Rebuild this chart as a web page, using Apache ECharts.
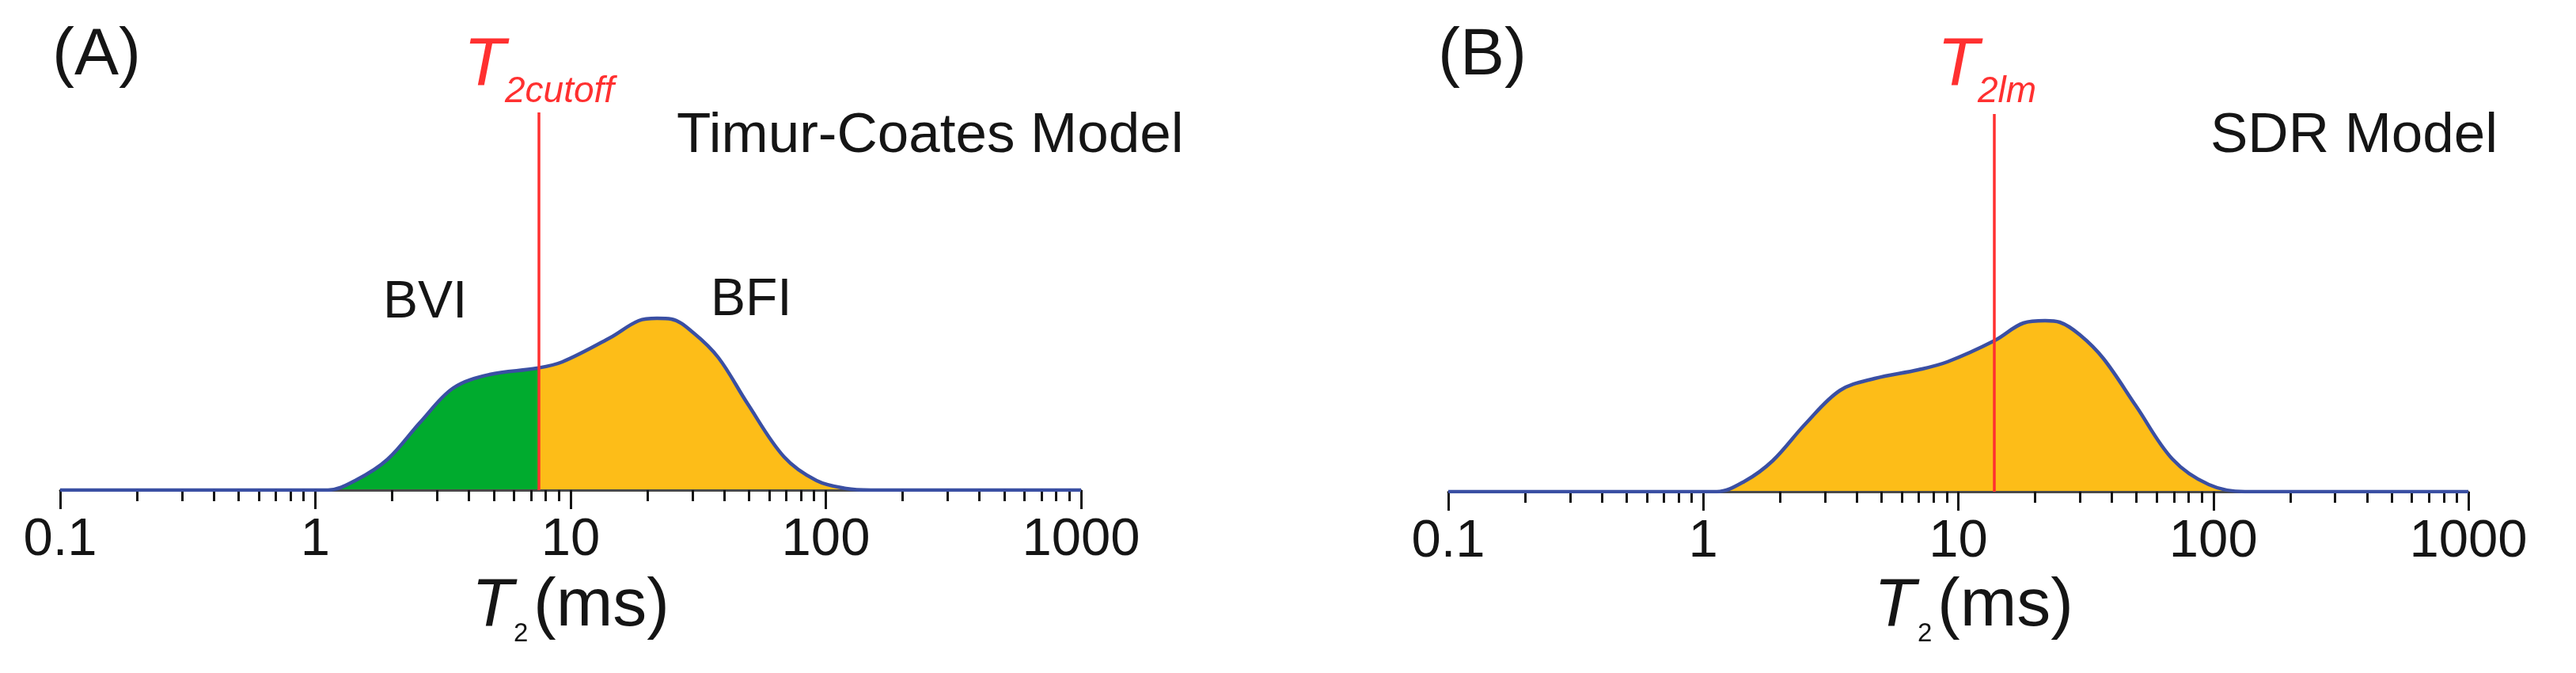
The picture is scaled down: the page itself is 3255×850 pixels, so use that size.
<!DOCTYPE html>
<html>
<head>
<meta charset="utf-8">
<title>T2 distribution - Timur-Coates and SDR models</title>
<script src="https://cdn.jsdelivr.net/npm/echarts@6/dist/echarts.min.js"></script>
<style>
  html, body { margin: 0; padding: 0; background: #fff; }
  #chart { width: 3255px; height: 850px; }
</style>
</head>
<body>
<div id="chart"></div>
<script>
// T2 relaxation time (ms) and amplitude (a.u.)
var t2A = [0.1, 0.8, 1.12, 1.45, 1.92, 2.58, 3.47, 4.82, 7.38, 9.29, 14.2, 18.5, 21.8, 24.8, 30.2, 38, 49.4, 68.6, 92, 120, 150, 200, 1000];
var ampA = [0, 0, 0, 0.13, 0.39, 0.86, 1.29, 1.46, 1.54, 1.62, 1.92, 2.14, 2.17, 2.16, 1.99, 1.67, 1.09, 0.42, 0.12, 0.02, 0, 0, 0];

var t2B = [0.1, 0.8, 1.13, 1.45, 1.87, 2.52, 3.44, 4.7, 6.97, 9.06, 13.9, 18, 21.9, 25, 30, 37.1, 49.8, 69.2, 96, 133, 200, 1000];
var ampB = [0, 0, 0, 0.13, 0.39, 0.86, 1.28, 1.43, 1.54, 1.64, 1.91, 2.13, 2.16, 2.14, 1.98, 1.68, 1.08, 0.41, 0.09, 0, 0, 0];

var t2Cutoff = 7.5;   // panel A red line
var t2Lm = 13.8;      // panel B red line

var tickValues = [0.1, 1, 10, 100, 1000];
var tickLabels = ["0.1", "1", "10", "100", "1000"];
var minorTicks = [0.2, 0.3, 0.4, 0.5, 0.6, 0.7, 0.8, 0.9, 2, 3, 4, 5, 6, 7, 8, 9,
  20, 30, 40, 50, 60, 70, 80, 90, 200, 300, 400, 500, 600, 700, 800, 900];

var xMin = 0.1, xMax = 1000, yMax = 4.77;

var FONT = '"Liberation Sans", Arial, sans-serif';
var BLUE = "#3a4fa3";
var GREEN = "#00ab2e";
var ORANGE = "#fdbd18";
var RED = "#ff3030";
var INK = "#151515";

function pairs(xs, ys) {
  return xs.map(function(x, i) { return [x, ys[i]]; });
}

function labelFor(v) {
  var i = tickValues.findIndex(function(t) {
    return Math.abs(Math.log10(t) - Math.log10(v)) < 1e-6;
  });
  return i < 0 ? "" : tickLabels[i];
}

function mainAxis(grid) {
  return {
    type: "log", logBase: 10, gridIndex: grid, min: xMin, max: xMax,
    position: "bottom", z: 2,
    axisLine: { show: true, lineStyle: { color: "#4a4a4a", width: 3 } },
    axisTick: { show: true, customValues: tickValues, length: 24, lineStyle: { color: INK, width: 3 } },
    axisLabel: {
      show: true, customValues: tickValues, margin: 30, lineHeight: 67,
      fontSize: 67, fontFamily: FONT, color: INK, formatter: labelFor
    },
    splitLine: { show: false },
    minorTick: { show: false }
  };
}

function minorAxis(grid) {
  return {
    type: "log", logBase: 10, gridIndex: grid, min: xMin, max: xMax,
    position: "bottom", z: 2,
    axisLine: { show: false },
    axisTick: { show: true, customValues: minorTicks, length: 14, lineStyle: { color: INK, width: 3 } },
    axisLabel: { show: false },
    splitLine: { show: false }
  };
}

// where the cutoff sits along the log axis -> hard colour stop in the fill
var lx0 = Math.log10(t2A[0]), lx1 = Math.log10(t2A[t2A.length - 1]);
var cutFrac = (Math.log10(t2Cutoff) - lx0) / (lx1 - lx0);

function redLine(v) {
  return {
    symbol: "none", silent: true, animation: false,
    lineStyle: { color: RED, width: 3.5, type: "solid" },
    label: { show: false },
    data: [{ xAxis: v }]
  };
}

function txt(x, y, text, size, opts) {
  opts = opts || {};
  return {
    type: "text", x: x, y: y, silent: true,
    style: {
      text: text, fontSize: size, fontFamily: FONT,
      fontStyle: opts.italic ? "italic" : "normal",
      fill: opts.color || INK, align: "left", verticalAlign: "middle"
    }
  };
}

var chart = echarts.init(document.getElementById("chart"), null, { renderer: "canvas" });

chart.setOption({
  animation: false,
  backgroundColor: "#fff",
  grid: [
    { left: 76, right: 1889, top: 142, bottom: 231, containLabel: false, outerBoundsMode: "none" },
    { left: 1830, right: 136, top: 144, bottom: 229, containLabel: false, outerBoundsMode: "none" }
  ],
  xAxis: [mainAxis(0), minorAxis(0), mainAxis(1), minorAxis(1)],
  yAxis: [
    { type: "value", gridIndex: 0, min: 0, max: yMax, show: false },
    { type: "value", gridIndex: 1, min: 0, max: yMax, show: false }
  ],
  series: [
    {
      name: "A fill", type: "line", xAxisIndex: 0, yAxisIndex: 0, z: 1,
      data: pairs(t2A, ampA), smooth: 0.35, symbol: "none",
      lineStyle: { width: 0, opacity: 0 },
      areaStyle: {
        opacity: 1,
        color: new echarts.graphic.LinearGradient(0, 0, 1, 0, [
          { offset: 0, color: GREEN },
          { offset: cutFrac, color: GREEN },
          { offset: cutFrac, color: ORANGE },
          { offset: 1, color: ORANGE }
        ])
      }
    },
    {
      name: "A curve", type: "line", xAxisIndex: 0, yAxisIndex: 0, z: 3,
      data: pairs(t2A, ampA), smooth: 0.35, symbol: "none",
      lineStyle: { color: BLUE, width: 4.5 },
      markLine: redLine(t2Cutoff)
    },
    {
      name: "B fill", type: "line", xAxisIndex: 2, yAxisIndex: 1, z: 1,
      data: pairs(t2B, ampB), smooth: 0.35, symbol: "none",
      lineStyle: { width: 0, opacity: 0 },
      areaStyle: { opacity: 1, color: ORANGE }
    },
    {
      name: "B curve", type: "line", xAxisIndex: 2, yAxisIndex: 1, z: 3,
      data: pairs(t2B, ampB), smooth: 0.35, symbol: "none",
      lineStyle: { color: BLUE, width: 4.5 },
      markLine: redLine(t2Lm)
    }
  ],
  graphic: [
    // panel A
    txt(66, 71, "(A)", 84),
    txt(586, 83, "T", 86, { italic: true, color: RED }),
    txt(638, 116, "2cutoff", 46, { italic: true, color: RED }),
    txt(855, 172, "Timur-Coates Model", 71),
    txt(484, 383, "BVI", 66),
    txt(898, 380, "BFI", 66),
    txt(596, 766, "T", 86, { italic: true }),
    txt(649, 801, "2", 33),
    txt(674, 766, "(ms)", 86),
    // panel B
    txt(1817, 71, "(B)", 84),
    txt(2448, 83, "T", 86, { italic: true, color: RED }),
    txt(2499, 116, "2lm", 46, { italic: true, color: RED }),
    txt(2793, 172, "SDR Model", 71),
    txt(2368, 766, "T", 86, { italic: true }),
    txt(2423, 801, "2", 33),
    txt(2448, 766, "(ms)", 86)
  ]
});
</script>
</body>
</html>
